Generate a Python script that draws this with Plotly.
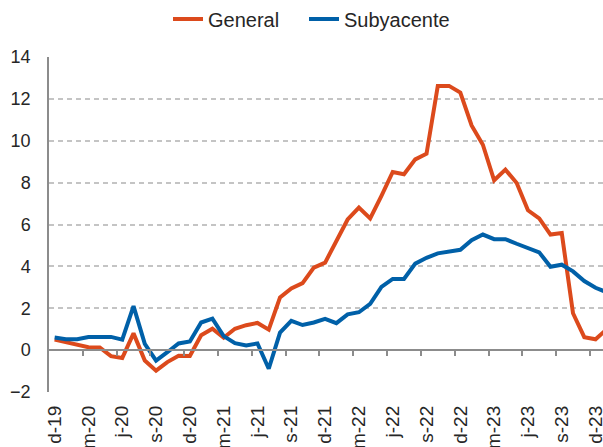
import plotly.graph_objects as go

# Monthly data, Dec 2019 .. Jan 2024
months = ["d-19","e-20","f-20","m-20","a-20","m-20","j-20","j-20","a-20","s-20","o-20","n-20",
          "d-20","e-21","f-21","m-21","a-21","m-21","j-21","j-21","a-21","s-21","o-21","n-21",
          "d-21","e-22","f-22","m-22","a-22","m-22","j-22","j-22","a-22","s-22","o-22","n-22",
          "d-22","e-23","f-23","m-23","a-23","m-23","j-23","j-23","a-23","s-23","o-23","n-23",
          "d-23","e-24"]

general = [0.5, 0.38, 0.22, 0.14, 0.13, -0.29, -0.38, 0.8, -0.5, -0.98, -0.57, -0.27,
           -0.28, 0.71, 1.02, 0.59, 1.02, 1.19, 1.3, 0.98, 2.52, 2.95, 3.2, 3.94,
           4.18, 5.17, 6.24, 6.81, 6.29, 7.37, 8.51, 8.4, 9.11, 9.38, 12.62, 12.62,
           12.3, 10.73, 9.81, 8.11, 8.62, 7.98, 6.68, 6.29, 5.52, 5.59, 1.76, 0.62,
           0.52, 1.0]

subyacente = [0.6, 0.52, 0.52, 0.63, 0.63, 0.63, 0.5, 2.1, 0.3, -0.5, -0.1, 0.32,
              0.41, 1.32, 1.5, 0.67, 0.33, 0.22, 0.32, -0.89, 0.84, 1.4, 1.2, 1.32,
              1.49, 1.29, 1.71, 1.81, 2.21, 3.02, 3.4, 3.4, 4.13, 4.41, 4.62, 4.7,
              4.79, 5.25, 5.52, 5.3, 5.3, 5.08, 4.87, 4.67, 3.98, 4.08, 3.76, 3.3,
              2.98, 2.76]

label_idx = list(range(0, 49, 3))
tick_labels = [months[i] for i in label_idx]
boundaries = [i + 2.5 for i in range(0, 48, 3)]

x = list(range(len(months)))
xr = [-0.5, 48.66]
font = "Liberation Sans, Arial, sans-serif"
txt = "#262626"
axis_gray = "#8c8c8c"

fig = go.Figure()
fig.add_trace(go.Scatter(x=x, y=general, name="General", mode="lines",
                         line=dict(color="#DC4A1C", width=4), xaxis="x2", legend="legend"))
fig.add_trace(go.Scatter(x=x, y=subyacente, name="Subyacente", mode="lines",
                         line=dict(color="#0060A8", width=4), xaxis="x2", legend="legend2"))
# invisible helper so the zero-line tick axis is drawn
fig.add_trace(go.Scatter(x=x, y=general, mode="lines", line=dict(width=0),
                         opacity=0, showlegend=False, hoverinfo="skip", xaxis="x"))

leg_common = dict(orientation="h", xref="container", yref="container",
                  xanchor="left", y=1 - 19/447, yanchor="middle",
                  font=dict(size=20, color=txt), bgcolor="rgba(0,0,0,0)")

fig.update_layout(
    width=603, height=447,
    margin=dict(l=49, r=0, t=57, b=55, autoexpand=False),
    paper_bgcolor="white", plot_bgcolor="white",
    font=dict(family=font, color=txt),
    showlegend=True,
    legend=dict(x=168/603, **leg_common),
    legend2=dict(x=304/603, **leg_common),
    # tick-mark axis along y = 0
    xaxis=dict(range=xr, anchor="free", position=0.125, showline=True,
               linecolor=axis_gray, linewidth=1.5, ticks="outside", ticklen=5,
               tickwidth=1.5, tickcolor=axis_gray, tickvals=boundaries,
               showticklabels=False, showgrid=False, zeroline=False, automargin=False),
    # labels axis at bottom
    xaxis2=dict(range=xr, overlaying="x", anchor="y", side="bottom",
                tickvals=label_idx, ticktext=tick_labels, tickangle=-90,
                ticks="", showline=False, showgrid=False, zeroline=False,
                ticklabelstandoff=9, automargin=False, ticklabeloverflow="allow",
                tickfont=dict(size=19, color=txt, family=font)),
    yaxis=dict(range=[-2, 14], tickvals=list(range(-2, 15, 2)),
               showline=True, linecolor=axis_gray, linewidth=1.5,
               showgrid=True, gridcolor="#c4c4c4", gridwidth=1.5, griddash="5px,4px",
               zeroline=False, ticks="", ticklabelstandoff=13, automargin=False,
               tickfont=dict(size=18, color=txt, family=font)),
)

fig.write_html("out.html", config={"displayModeBar": False},
               post_script="document.body.style.margin='0px';document.body.style.overflow='hidden';")
